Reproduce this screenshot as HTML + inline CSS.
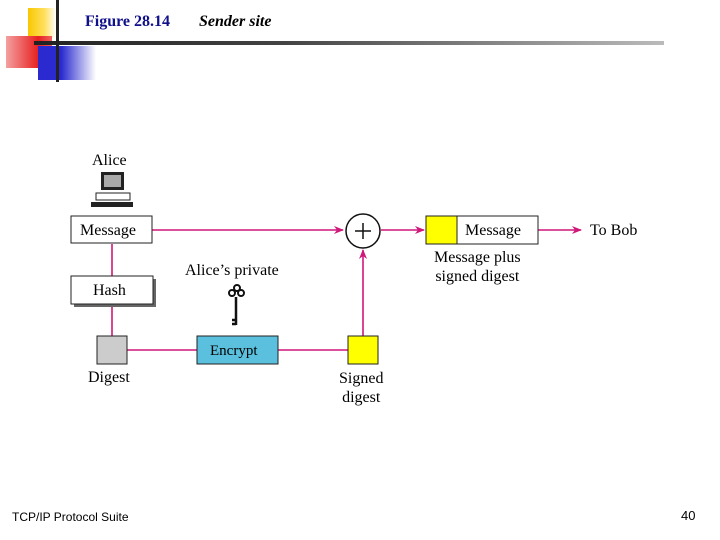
<!DOCTYPE html>
<html><head><style>
body{margin:0;width:720px;height:540px;background:#fff;overflow:hidden;position:relative;font-family:"Liberation Serif",serif}
.t{position:absolute;white-space:nowrap}
</style></head><body>
<div style="position:absolute;left:28px;top:8px;width:28px;height:30px;background:linear-gradient(90deg,#f8c800,#ffe060 60%,#fff)"></div>
<div style="position:absolute;left:6px;top:36px;width:46px;height:32px;background:linear-gradient(90deg,#f4a0a0,#e82020 70%,#f06060)"></div>
<div style="position:absolute;left:38px;top:46px;width:58px;height:34px;background:linear-gradient(90deg,#2a2ad0 40%,#fff)"></div>
<div style="position:absolute;left:34px;top:41px;width:630px;height:4px;background:linear-gradient(90deg,#222,#444 40%,#bbb)"></div>
<div style="position:absolute;left:56px;top:0;width:3px;height:82px;background:#222"></div>
<div class="t" style="left:85px;top:13px;font-size:16px;font-weight:bold;color:#10108a">Figure 28.14</div>
<div class="t" style="left:199px;top:13px;font-size:16px;font-weight:bold;font-style:italic">Sender site</div>
<svg width="720" height="540" style="position:absolute;left:0;top:0">
<defs><marker id="a" markerWidth="10" markerHeight="8" refX="9" refY="4" orient="auto" markerUnits="userSpaceOnUse"><path d="M0,0 L10,4 L0,8 L3,4Z" fill="#d0177a"/></marker></defs>
<g stroke="#d0177a" stroke-width="1.6" fill="none">
<line x1="152" y1="230" x2="343" y2="230" marker-end="url(#a)"/>
<line x1="381" y1="230" x2="424" y2="230" marker-end="url(#a)"/>
<line x1="538" y1="230" x2="581" y2="230" marker-end="url(#a)"/>
<line x1="112" y1="244" x2="112" y2="276"/>
<line x1="112" y1="304" x2="112" y2="336"/>
<line x1="127" y1="350" x2="197" y2="350"/>
<line x1="278" y1="350" x2="348" y2="350"/>
<line x1="363" y1="336" x2="363" y2="250" marker-end="url(#a)"/>
</g>
<rect x="71" y="216" width="81" height="27" fill="#fff" stroke="#222"/>
<rect x="74" y="279" width="82" height="28" fill="#666"/>
<rect x="71" y="276" width="82" height="28" fill="#fff" stroke="#222"/>
<rect x="97" y="336" width="30" height="28" fill="#ccc" stroke="#222"/>
<rect x="197" y="336" width="81" height="28" fill="#5bc0de" stroke="#222"/>
<rect x="348" y="336" width="30" height="28" fill="#ffff00" stroke="#222"/>
<circle cx="363" cy="231" r="17" fill="#fff" stroke="#111" stroke-width="1.5"/>
<path d="M355 231h16M363 223v16" stroke="#111" stroke-width="1.5"/>
<rect x="426" y="216" width="112" height="28" fill="#fff" stroke="#222"/>
<rect x="426" y="216" width="31" height="28" fill="#ffff00" stroke="#222"/>
<rect x="101" y="172" width="23" height="18" fill="#222"/><rect x="104" y="175" width="17" height="12" fill="#aaa"/>
<rect x="96" y="193" width="34" height="7" fill="#fff" stroke="#222"/>
<rect x="91" y="202" width="42" height="5" fill="#222"/>
<g fill="none" stroke="#111" stroke-width="2"><circle cx="232" cy="293" r="3"/><circle cx="241" cy="293" r="3"/><circle cx="237" cy="288" r="3"/></g>
<path d="M236 297v28M232 320h4M232 324h4" stroke="#111" stroke-width="2.5"/>
</svg>
<div class="t" style="left:92px;top:152px;font-size:16px">Alice</div>
<div class="t" style="left:80px;top:222px;font-size:16px">Message</div>
<div class="t" style="left:93px;top:282px;font-size:16px">Hash</div>
<div class="t" style="left:185px;top:262px;font-size:16px">Alice’s private</div>
<div class="t" style="left:210px;top:343px;font-size:15px">Encrypt</div>
<div class="t" style="left:88px;top:369px;font-size:16px">Digest</div>
<div class="t" style="left:339px;top:369px;font-size:16px;text-align:center;line-height:19px">Signed<br>digest</div>
<div class="t" style="left:465px;top:222px;font-size:16px">Message</div>
<div class="t" style="left:590px;top:222px;font-size:16px">To Bob</div>
<div class="t" style="left:434px;top:248px;font-size:16px;text-align:center;line-height:19px">Message plus<br>signed digest</div>
<div class="t" style="left:12px;top:510px;font-size:12px;font-family:'Liberation Sans',sans-serif">TCP/IP Protocol Suite</div>
<div class="t" style="left:681px;top:508px;font-size:13px;font-family:'Liberation Sans',sans-serif">40</div>
</body></html>
